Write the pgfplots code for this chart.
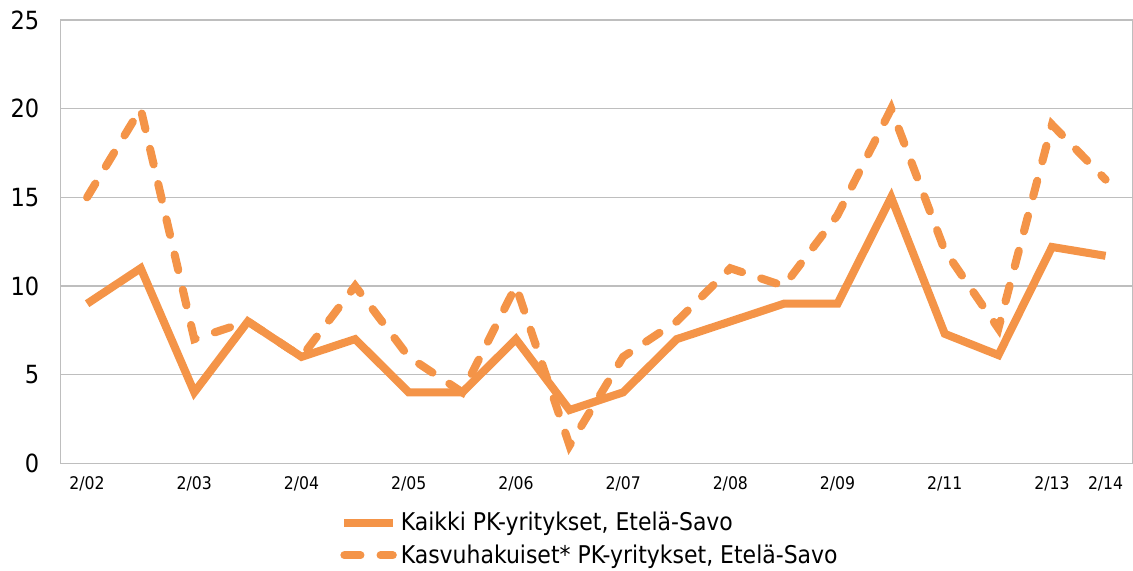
\documentclass[border=0pt]{standalone}
\usepackage{fontspec}
\setmainfont{DejaVu Sans Condensed}
\usepackage{pgfplots}
\pgfplotsset{compat=1.18}
\definecolor{lineor}{RGB}{244,148,72}
\definecolor{gridg}{RGB}{190,190,190}
\begin{document}
\begin{tikzpicture}
\begin{axis}[
  scale only axis,
  width=533.5bp, height=220.5bp,
  xmin=-0.5, xmax=19.5, ymin=0, ymax=25,
  ytick={0,5,10,15,20,25},
  xtick={0,2,4,6,8,10,12,14,16,18,19},
  xticklabels={2/02,2/03,2/04,2/05,2/06,2/07,2/08,2/09,2/11,2/13,2/14},
  ymajorgrids, major grid style={gridg, line width=0.6pt},
  axis line style={gridg, line width=0.6pt},
  tick style={draw=none},
  /pgf/number format/assume math mode=true,
  yticklabel style={font=\fontsize{12.5}{14}\selectfont, xshift=-7bp},
  xticklabel style={font=\fontsize{8.7}{10}\selectfont, yshift=-3bp},
  legend style={at={(0.495,-0.1)}, anchor=north, draw=none, font=\fontsize{12.2}{14}\selectfont, legend cell align=left, row sep=1.5bp, inner sep=0pt},
  legend image code/.code={\draw[#1] (0cm,0cm) -- (0.85cm,0cm);},
]
\addplot[lineor, line width=4bp, line join=miter] coordinates {
(0,9) (1,11) (2,4) (3,8) (4,6) (5,7) (6,4) (7,4) (8,7) (9,3)
(10,4) (11,7) (12,8) (13,9) (14,9) (15,15) (16,7.3) (17,6.1) (18,12.2) (19,11.7)};
\addlegendentry{Kaikki PK-yritykset, Etelä-Savo}
\addplot[lineor, line width=4bp, line cap=round, dash pattern=on 8bp off 10bp] coordinates {
(0,15) (1,20) (2,7) (3,8) (4,6) (5,10) (6,6) (7,4) (8,10) (9,1)
(10,6) (11,8) (12,11) (13,10) (14,14) (15,20) (16,12) (17,7.6) (18,19.1) (19,16)};
\addlegendentry{Kasvuhakuiset* PK-yritykset, Etelä-Savo}
\end{axis}
\path ([yshift=10bp,xshift=-30bp]current axis.north west);
\end{tikzpicture}
\end{document}
